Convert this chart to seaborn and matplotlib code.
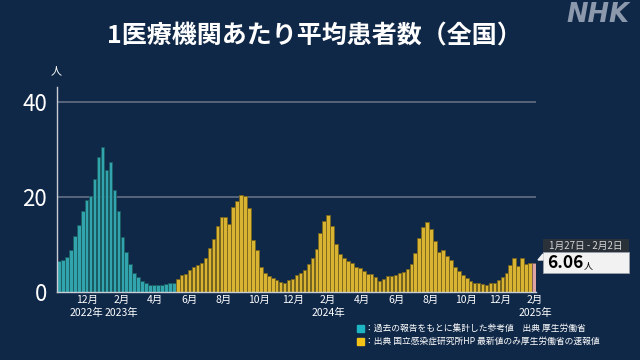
import numpy as np
import pandas as pd
import matplotlib
matplotlib.use('Agg')
import matplotlib.pyplot as plt
import matplotlib.colors as mcolors
from matplotlib.patches import Rectangle, Polygon
import seaborn as sns

# weekly averages per medical institution
ref_values = [6.5, 6.7, 7.4, 8.8, 11.8, 14.2, 17.1, 19.4, 20.2, 23.8,
              28.4, 30.5, 25.8, 27.3, 21.6, 17.1, 11.5, 8.5, 5.9, 4.1,
              3.2, 2.3, 1.8, 1.5, 1.4, 1.4, 1.5, 1.7, 1.9, 2.0]
niid_values = [2.7, 3.6, 3.7, 4.6, 5.2, 5.6, 6.2, 7.2, 9.2, 11.1,
               13.9, 15.9, 15.9, 14.4, 17.9, 19.1, 20.5, 20.3, 17.6, 11.0,
               8.8, 5.3, 3.9, 3.4, 3.0, 2.5, 2.1, 2.0, 2.5, 2.8,
               3.6, 4.1, 4.6, 5.8, 7.1, 9.0, 12.4, 15.0, 16.2, 13.9,
               10.2, 8.0, 7.1, 6.6, 6.2, 5.3, 5.1, 4.4, 3.8, 3.7,
               3.2, 2.4, 2.8, 3.4, 3.4, 3.6, 4.1, 4.3, 4.8, 5.9,
               8.3, 11.3, 13.8, 14.7, 13.3, 10.7, 8.5, 8.8, 7.6, 6.7,
               5.3, 4.4, 3.6, 3.0, 2.4, 2.0, 1.8, 1.7, 1.5, 2.0,
               2.0, 2.5, 3.2, 4.1, 5.6, 7.1, 5.5, 7.1, 5.8, 6.2]
latest_value = [6.06]

first_week_end = '2022-10-16'
tick_dates = ['2022-12-01', '2023-02-01', '2023-04-01', '2023-06-01', '2023-08-01',
              '2023-10-01', '2023-12-01', '2024-02-01', '2024-04-01', '2024-06-01',
              '2024-08-01', '2024-10-01', '2024-12-01', '2025-02-01']
tick_labels = ['12月', '2月', '4月', '6月', '8月', '10月', '12月',
               '2月', '4月', '6月', '8月', '10月', '12月', '2月']
year_dates = ['2022-12-01', '2023-02-01', '2024-02-01', '2025-02-01']
year_labels = ['2022年', '2023年', '2024年', '2025年']

BG = '#102848'
colors = {'ref': '#1db5c3', 'niid': '#f3c417', 'latest': '#e89a9a'}

values = ref_values + niid_values + latest_value
source = ['ref'] * len(ref_values) + ['niid'] * len(niid_values) + ['latest'] * len(latest_value)
weeks = pd.date_range(first_week_end, periods=len(values), freq='7D')
df = pd.DataFrame({'week': weeks.strftime('%Y-%m-%d'), 'value': values, 'source': source})

sns.set_theme(style='dark')
plt.rcParams['font.family'] = ['Noto Sans CJK JP', 'DejaVu Sans']

fig = plt.figure(figsize=(6.4, 3.6), dpi=100, facecolor=BG)
ax = fig.add_axes([57 / 640, 1 - 292 / 360, (536 - 57) / 640, (292 - 87) / 360])
ax.set_facecolor(BG)

sns.barplot(data=df, x='week', y='value', hue='source', dodge=False,
            palette=colors, width=0.9, legend=False, ax=ax)
for p in ax.patches:
    fc = np.array(mcolors.to_rgb(p.get_facecolor()))
    p.set_edgecolor(fc * 0.55)
    p.set_linewidth(0.6)

ax.set_xlim(-0.5, len(values) - 0.5)
ax.set_ylim(0, 43.2)
ax.set_xlabel('')
ax.set_ylabel('')

# x positions of dates on the categorical week axis (bar centre = Thursday)
origin = weeks[0] - pd.Timedelta(days=3)
def date_pos(d):
    return (pd.Timestamp(d) - origin).days / 7

ax.set_xticks([date_pos(d) for d in tick_dates])
ax.set_xticklabels(tick_labels, color='white', fontsize=7.5)
ax.tick_params(axis='x', length=0, pad=2)
for d, lab in zip(year_dates, year_labels):
    ax.text(date_pos(d), -21 / 205, lab, transform=ax.get_xaxis_transform(),
            ha='center', va='center', color='white', fontsize=7.5)

ax.set_yticks([0, 20, 40])
ax.set_yticklabels(['0', '20', '40'], color='white', fontsize=16)
ax.tick_params(axis='y', length=5, width=1, color='#c8ccd4', pad=2)
ax.grid(False)
for y in [20, 40]:
    ax.axhline(y, color='#5d6a80', lw=1.3, zorder=0)

for s in ['top', 'right']:
    ax.spines[s].set_visible(False)
ax.spines['left'].set_color('#c8ccd4')
ax.spines['left'].set_linewidth(1)
ax.spines['bottom'].set_color('#c8ccd4')
ax.spines['bottom'].set_linewidth(1)

# overlay in pixel coordinates for title, legend and callout
ov = fig.add_axes([0, 0, 1, 1], facecolor='none')
ov.set_xlim(0, 640)
ov.set_ylim(360, 0)
ov.axis('off')

ov.text(314, 37, '1医療機関あたり平均患者数（全国）', ha='center', va='center',
        color='white', fontsize=18, fontweight='bold')
ov.text(598, 15, 'NHK', ha='center', va='center', color='#8c98ab',
        fontsize=18.5, fontweight='bold', fontstyle='italic', family='DejaVu Sans')
ov.text(56, 71, '人', ha='center', va='center', color='white', fontsize=8)

ov.add_patch(Rectangle((357, 325), 7, 7, color=colors['ref']))
ov.add_patch(Rectangle((357, 338), 7, 7, color=colors['niid']))
ov.text(365, 328.5, '：過去の報告をもとに集計した参考値　出典 厚生労働省',
        ha='left', va='center', color='white', fontsize=6.3)
ov.text(365, 341.5, '：出典 国立感染症研究所HP 最新値のみ厚生労働省の速報値',
        ha='left', va='center', color='white', fontsize=6.3)

ov.add_patch(Rectangle((543, 239), 86, 13, facecolor='#2b3139', edgecolor='none'))
ov.add_patch(Rectangle((543, 252), 86, 21, facecolor='#f2f2f2', edgecolor='#9aa0a8', lw=0.6))
ov.add_patch(Polygon([[538, 260], [543, 254], [543, 260]], closed=True, color='#f2f2f2'))
ov.text(586, 245.5, '1月27日 - 2月2日', ha='center', va='center', color='#d6d6d6', fontsize=7)
ov.text(547, 263, '6.06', ha='left', va='center', color='black', fontsize=12.5, fontweight='bold')
ov.text(584, 266, '人', ha='left', va='center', color='black', fontsize=6.5)

fig.savefig('out.png', dpi=100, facecolor=BG)
